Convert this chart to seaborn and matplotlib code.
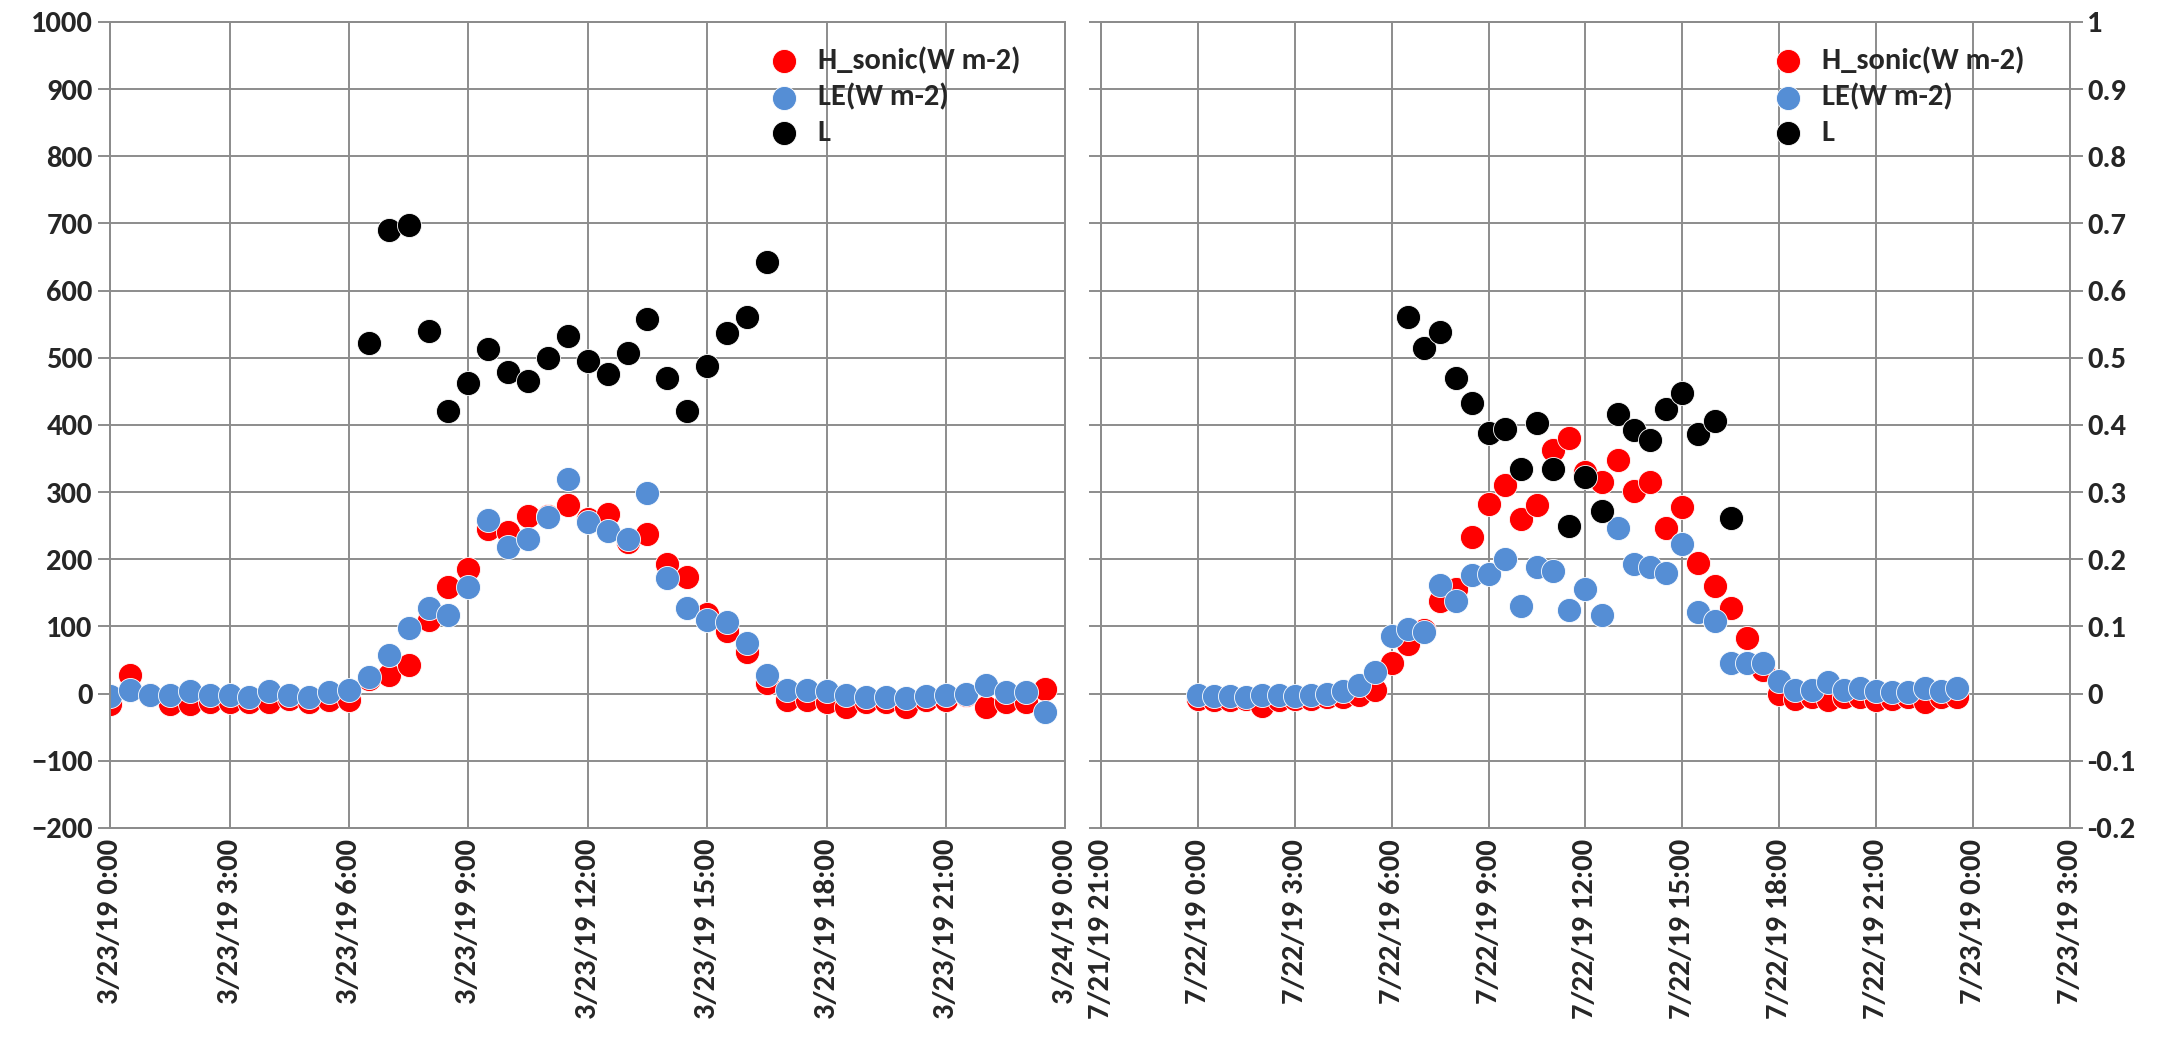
import matplotlib
matplotlib.use('Agg')
import matplotlib.pyplot as plt
import matplotlib.ticker as mticker
from matplotlib import font_manager
import numpy as np
import pandas as pd
import seaborn as sns

# --- data ---
times_mar = pd.date_range('2019-03-23 00:00', periods=48, freq='30min')
times_jul = pd.date_range('2019-07-22 00:00', periods=48, freq='30min')

h_mar = [-15, 27, -2, -15, -15, -12, -12, -13, -12, -8, -12, -10, -10, 22, 27, 42,
         110, 158, 185, 245, 240, 265, 265, 280, 260, 268, 225, 238, 193, 173, 118, 93,
         62, 15, -10, -10, -12, -20, -12, -13, -20, -10, -10, -2, -20, -12, -12, 7]
le_mar = [-3, 5, -2, -2, 3, -2, -2, -5, 3, -2, -5, 2, 5, 25, 58, 97,
          128, 117, 158, 258, 218, 230, 263, 320, 255, 242, 230, 298, 172, 127, 110, 107,
          75, 28, 5, 5, 3, -2, -5, -5, -7, -3, -2, 0, 12, 2, 2, -28]
l_mar = [np.nan] * 13 + [0.522, 0.690, 0.697, 0.540, 0.420, 0.462, 0.513, 0.478, 0.465,
                         0.500, 0.533, 0.495, 0.475, 0.507, 0.557, 0.470, 0.420, 0.487,
                         0.537, 0.560, 0.643] + [np.nan] * 14

h_jul = [-8, -10, -10, -8, -18, -10, -8, -8, -5, -5, -2, 5, 45, 73, 95, 138,
         155, 233, 282, 310, 260, 280, 362, 380, 330, 315, 347, 302, 315, 247, 278, 195,
         160, 128, 83, 35, 0, -8, -5, -10, -5, -5, -10, -8, -5, -12, -5, -5]
le_jul = [-2, -3, -3, -5, -2, -2, -3, -2, 0, 3, 12, 32, 85, 96, 92, 162,
          137, 177, 178, 200, 130, 188, 182, 125, 155, 117, 247, 193, 188, 180, 222, 122,
          108, 45, 45, 45, 18, 5, 5, 17, 5, 8, 3, 2, 2, 8, 3, 8]
l_jul = [np.nan] * 13 + [0.560, 0.515, 0.538, 0.470, 0.433, 0.388, 0.394, 0.334, 0.402,
                         0.334, 0.250, 0.322, 0.272, 0.416, 0.392, 0.377, 0.423, 0.447,
                         0.386, 0.405, 0.262] + [np.nan] * 14

labels = ['H_sonic(W m-2)', 'LE(W m-2)', 'L']
colors = ['#FF0000', '#558ED5', '#000000']

sns.set_style('white')

# pick a Calibri-like family that really has a bold face installed
bold_fams = {f.name for f in font_manager.fontManager.ttflist
             if (f.weight == 'bold' or (isinstance(f.weight, int) and f.weight >= 700))}
font_choice = 'DejaVu Sans'
for fam in ['Carlito', 'Lato', 'Open Sans', 'Noto Sans', 'Liberation Sans']:
    if fam in bold_fams:
        font_choice = fam
        break
plt.rcParams['font.family'] = [font_choice, 'DejaVu Sans']
plt.rcParams['font.weight'] = 'bold'

grid_c = '#8c8c8c'
ysize = 22
xsize = 22
msize = 300


def date_label(x, pos=None):
    d = matplotlib.dates.num2date(x)
    return f"{d.month}/{d.day}/{d.strftime('%y')} {d.hour}:{d.minute:02d}"


def panel(fig, rect, times, h, le, l, x0, x1, show_left, show_right):
    ax = fig.add_axes(rect)
    ax2 = ax.twinx()
    sns.scatterplot(x=times, y=h, ax=ax, color=colors[0], s=msize, edgecolor='white',
                    linewidth=0.6, label=labels[0], zorder=3)
    sns.scatterplot(x=times, y=le, ax=ax, color=colors[1], s=msize, edgecolor='white',
                    linewidth=0.6, label=labels[1], zorder=4)
    sns.scatterplot(x=times, y=l, ax=ax2, color=colors[2], s=msize, edgecolor='white',
                    linewidth=0.6, label=labels[2], zorder=5)

    ax.set_ylim(-200, 1000)
    ax.yaxis.set_major_locator(mticker.MultipleLocator(100))
    ax2.set_ylim(-0.2, 1.0)
    ax2.yaxis.set_major_locator(mticker.MultipleLocator(0.1))
    ax2.yaxis.set_major_formatter(mticker.FuncFormatter(lambda v, p: f"{round(v, 1):g}"))

    ax.set_xlim(pd.Timestamp(x0), pd.Timestamp(x1))
    ticks = pd.date_range(x0, x1, freq='3h')
    ax.set_xticks(ticks)
    ax.xaxis.set_major_formatter(mticker.FuncFormatter(date_label))
    ax.tick_params(axis='x', rotation=90, labelsize=xsize, length=7, pad=1,
                   color=grid_c, width=1.4)
    ax.tick_params(axis='y', labelsize=ysize, length=9, color=grid_c, width=1.4,
                   labelleft=show_left)
    ax2.tick_params(axis='y', labelsize=ysize, length=9 if show_right else 0, color=grid_c,
                    width=1.4, labelright=show_right)
    for lab in ax.get_xticklabels() + ax.get_yticklabels() + ax2.get_yticklabels():
        lab.set_fontweight('bold')

    ax.grid(True, color=grid_c, lw=1.4)
    ax.set_axisbelow(True)
    for a in (ax, ax2):
        for sp in a.spines.values():
            sp.set_color(grid_c)
            sp.set_linewidth(1.4)
    ax.set_xlabel('')
    ax.set_ylabel('')
    ax2.set_ylabel('')

    h1, l1 = ax.get_legend_handles_labels()
    h2, l2 = ax2.get_legend_handles_labels()
    ax.get_legend().remove()
    ax2.get_legend().remove()
    leg = ax2.legend(h1 + h2, l1 + l2, loc='upper right', bbox_to_anchor=(0.975, 0.995),
                     frameon=False, fontsize=ysize, handletextpad=0.1, labelspacing=0.3,
                     borderaxespad=0.3)
    for t in leg.get_texts():
        t.set_fontweight('bold')
    return ax, ax2


fig = plt.figure(figsize=(21.6, 10.4), dpi=100)
panel(fig, [0.051, 0.204, 0.4422, 0.775], times_mar, h_mar, le_mar, l_mar,
      '2019-03-23 00:00', '2019-03-24 00:00', True, False)
panel(fig, [0.5097, 0.204, 0.4486, 0.775], times_jul, h_jul, le_jul, l_jul,
      '2019-07-21 21:00', '2019-07-23 03:00', False, True)

fig.savefig('out.png', dpi=100)
